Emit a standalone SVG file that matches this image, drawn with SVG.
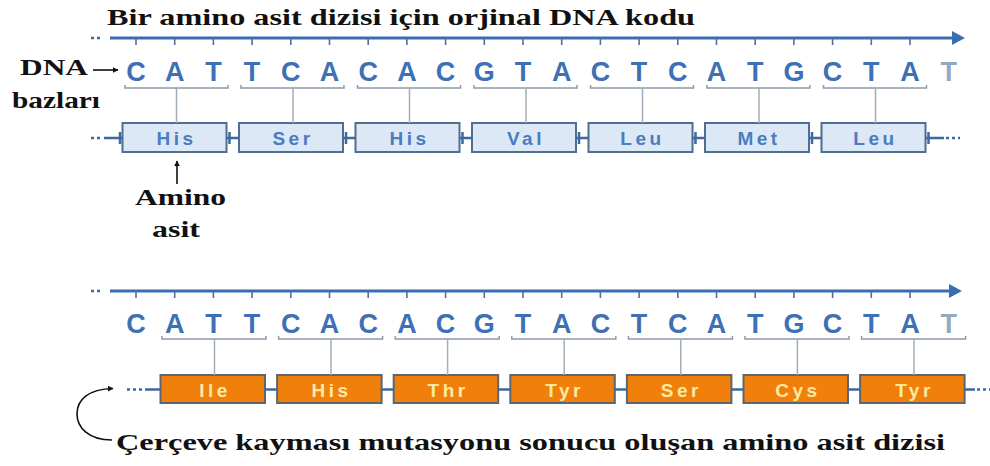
<svg xmlns="http://www.w3.org/2000/svg" width="990" height="466" viewBox="0 0 990 466">
<defs>
<style>
.lbl{font-family:"Liberation Serif","Times New Roman",serif;font-weight:bold;fill:#111;}
.base{font-family:"Liberation Sans",Arial,sans-serif;font-weight:bold;font-size:27px;fill:#3d70b5;text-anchor:middle;}
.fade{fill:#93a9c2;}
.aa{font-family:"Liberation Sans",Arial,sans-serif;font-weight:bold;font-size:19px;letter-spacing:3.5px;text-anchor:middle;}
.boxb{fill:#dce8f6;stroke:#4f6f92;stroke-width:2;}
.boxo{fill:#f07f0c;stroke:#5c6670;stroke-width:2;}
.tb{fill:#4a7cc0;}
.to{fill:#fde9a4;}
.strand{stroke:#3a6eb2;stroke-width:3;fill:none;}
.tick{stroke:#51709a;stroke-width:1.6;}
.brk{stroke:#8d9bab;stroke-width:1.5;fill:none;}
.vl{stroke:#a3adb8;stroke-width:1.5;}
.link{stroke:#3c6a9e;stroke-width:2.5;fill:none;}
.dots{stroke:#3c6a9e;stroke-width:2.5;stroke-dasharray:3 3;fill:none;}
.blk{stroke:#111;stroke-width:1.6;fill:none;}
</style>
<marker id="ah" viewBox="0 0 10 10" refX="9" refY="5" markerWidth="6" markerHeight="6" orient="auto" markerUnits="userSpaceOnUse">
<path d="M0,0 L10,5 L0,10 z" fill="#111"/>
</marker>
</defs>
<rect width="990" height="466" fill="#fff"/>

<g id="title"><text class="lbl" x="107" y="25" font-size="24" textLength="588" lengthAdjust="spacingAndGlyphs">Bir amino asit dizisi için orjinal DNA kodu</text></g>
<g id="dna-label"><text class="lbl" x="20" y="75" font-size="24" textLength="68" lengthAdjust="spacingAndGlyphs">DNA</text><text class="lbl" x="12" y="108" font-size="24" textLength="88" lengthAdjust="spacingAndGlyphs">bazları</text></g>
<g id="amino-label"><text class="lbl" x="135" y="205" font-size="24" textLength="91" lengthAdjust="spacingAndGlyphs">Amino</text><text class="lbl" x="152" y="237" font-size="24" textLength="48" lengthAdjust="spacingAndGlyphs">asit</text></g>
<g id="mutation-label"><text class="lbl" x="116" y="450" font-size="24" textLength="829" lengthAdjust="spacingAndGlyphs">Çerçeve kayması mutasyonu sonucu oluşan amino asit dizisi</text></g>

<g id="bases-top">
<text class="base" x="136" y="81">C</text><text class="base" x="174.7" y="81">A</text><text class="base" x="213.4" y="81">T</text><text class="base" x="252.1" y="81">T</text><text class="base" x="290.8" y="81">C</text><text class="base" x="329.5" y="81">A</text><text class="base" x="368.2" y="81">C</text><text class="base" x="406.9" y="81">A</text><text class="base" x="445.6" y="81">C</text><text class="base" x="484.3" y="81">G</text><text class="base" x="523" y="81">T</text><text class="base" x="561.7" y="81">A</text><text class="base" x="600.4" y="81">C</text><text class="base" x="639.1" y="81">T</text><text class="base" x="677.8" y="81">C</text><text class="base" x="716.5" y="81">A</text><text class="base" x="755.2" y="81">T</text><text class="base" x="793.9" y="81">G</text><text class="base" x="832.6" y="81">C</text><text class="base" x="871.3" y="81">T</text><text class="base" x="910" y="81">A</text><text class="base fade" x="948.7" y="81">T</text>
</g>
<g id="bases-bottom">
<text class="base" x="136" y="333">C</text><text class="base" x="174.7" y="333">A</text><text class="base" x="213.4" y="333">T</text><text class="base" x="252.1" y="333">T</text><text class="base" x="290.8" y="333">C</text><text class="base" x="329.5" y="333">A</text><text class="base" x="368.2" y="333">C</text><text class="base" x="406.9" y="333">A</text><text class="base" x="445.6" y="333">C</text><text class="base" x="484.3" y="333">G</text><text class="base" x="523" y="333">T</text><text class="base" x="561.7" y="333">A</text><text class="base" x="600.4" y="333">C</text><text class="base" x="639.1" y="333">T</text><text class="base" x="677.8" y="333">C</text><text class="base" x="716.5" y="333">A</text><text class="base" x="755.2" y="333">T</text><text class="base" x="793.9" y="333">G</text><text class="base" x="832.6" y="333">C</text><text class="base" x="871.3" y="333">T</text><text class="base" x="910" y="333">A</text><text class="base fade" x="948.7" y="333">T</text>
</g>

<g id="aa-top-1"><rect class="boxb" x="122.5" y="123" width="104" height="29"/><text class="aa tb" x="176.5" y="144.5">His</text></g>
<g id="aa-top-2"><rect class="boxb" x="239" y="123" width="104" height="29"/><text class="aa tb" x="293" y="144.5">Ser</text></g>
<g id="aa-top-3"><rect class="boxb" x="355.5" y="123" width="104" height="29"/><text class="aa tb" x="409.5" y="144.5">His</text></g>
<g id="aa-top-4"><rect class="boxb" x="472" y="123" width="104" height="29"/><text class="aa tb" x="526" y="144.5">Val</text></g>
<g id="aa-top-5"><rect class="boxb" x="588.5" y="123" width="104" height="29"/><text class="aa tb" x="642.5" y="144.5">Leu</text></g>
<g id="aa-top-6"><rect class="boxb" x="705" y="123" width="104" height="29"/><text class="aa tb" x="759" y="144.5">Met</text></g>
<g id="aa-top-7"><rect class="boxb" x="821.5" y="123" width="104" height="29"/><text class="aa tb" x="875.5" y="144.5">Leu</text></g>

<g id="aa-bot-1"><rect class="boxo" x="160.5" y="375" width="104.5" height="28"/><text class="aa to" x="215" y="396.5">Ile</text></g>
<g id="aa-bot-2"><rect class="boxo" x="277.1" y="375" width="104.5" height="28"/><text class="aa to" x="331.5" y="396.5">His</text></g>
<g id="aa-bot-3"><rect class="boxo" x="393.7" y="375" width="104.5" height="28"/><text class="aa to" x="448.1" y="396.5">Thr</text></g>
<g id="aa-bot-4"><rect class="boxo" x="510.3" y="375" width="104.5" height="28"/><text class="aa to" x="564.7" y="396.5">Tyr</text></g>
<g id="aa-bot-5"><rect class="boxo" x="626.9" y="375" width="104.5" height="28"/><text class="aa to" x="681.3" y="396.5">Ser</text></g>
<g id="aa-bot-6"><rect class="boxo" x="743.5" y="375" width="104.5" height="28"/><text class="aa to" x="797.9" y="396.5">Cys</text></g>
<g id="aa-bot-7"><rect class="boxo" x="860.1" y="375" width="104.5" height="28"/><text class="aa to" x="914.5" y="396.5">Tyr</text></g>

<g id="connectors">
<path class="strand" d="M110 38 H953"/>
<polygon points="952,31 965,38 952,45" fill="#3a6eb2"/>
<path class="dots" d="M91 38 H103" stroke-width="2"/>
<path class="tick" d="M136 38v7M174.7 38v7M213.4 38v7M252.1 38v7M290.8 38v7M329.5 38v7M368.2 38v7M406.9 38v7M445.6 38v7M484.3 38v7M523 38v7M561.7 38v7M600.4 38v7M639.1 38v7M677.8 38v7M716.5 38v7M755.2 38v7M793.9 38v7M832.6 38v7M871.3 38v7M910 38v7"/>
<path class="brk" d="M125 85v3H228v-3M241 85v3H344v-3M357.5 85v3H460.5v-3M474 85v3H577v-3M590.5 85v3H693.5v-3M707 85v3H810v-3M823.5 85v3H926.5v-3"/>
<path class="vl" d="M176.5 88V123M293 88V123M409.5 88V123M526 88V123M642.5 88V123M759 88V123M875.5 88V123"/>
<path class="link" d="M226.5 138H239M343 138H355.5M459.5 138H472M576 138H588.5M692.5 138H705M809 138H821.5M104 138H122.5M925.5 138H944"/>
<path class="link" d="M229.5 132v12M346 132v12M462.5 132v12M579 132v12M695.5 132v12M812 132v12M120 132v12M928.5 132v12" stroke-width="2"/>
<path class="dots" d="M91 138H102M946 138H960"/>
<path class="strand" d="M110 291 H950"/>
<polygon points="949,284 962,291 949,298" fill="#3a6eb2"/>
<path class="dots" d="M91 291 H103" stroke-width="2"/>
<path class="tick" d="M136 291v7M174.7 291v7M213.4 291v7M252.1 291v7M290.8 291v7M329.5 291v7M368.2 291v7M406.9 291v7M445.6 291v7M484.3 291v7M523 291v7M561.7 291v7M600.4 291v7M639.1 291v7M677.8 291v7M716.5 291v7M755.2 291v7M793.9 291v7M832.6 291v7M871.3 291v7M910 291v7"/>
<path class="brk" d="M162 336v3H266v-3M278.6 336v3H382.6v-3M395.2 336v3H499.2v-3M511.8 336v3H615.8v-3M628.4 336v3H732.4v-3M745 336v3H849v-3M861.6 336v3H965.6v-3"/>
<path class="vl" d="M214.5 339V375M331 339V375M447.6 339V375M564.2 339V375M680.8 339V375M797.4 339V375M914 339V375"/>
<path class="link" d="M265 389.5H277.1M381.6 389.5H393.7M498.2 389.5H510.3M614.8 389.5H626.9M731.4 389.5H743.5M848 389.5H860.1M145 389.5H160.5M964.6 389.5H975"/>
<path class="dots" d="M127 389.5H143M977 389.5H990"/>
<path class="blk" d="M93 70H118" marker-end="url(#ah)"/>
<path class="blk" d="M177 184V161" marker-end="url(#ah)"/>
<path class="blk" d="M112 440C88 440 77 427 77 414C77 400 88 389 113 388.5" marker-end="url(#ah)"/>
</g>
</svg>
